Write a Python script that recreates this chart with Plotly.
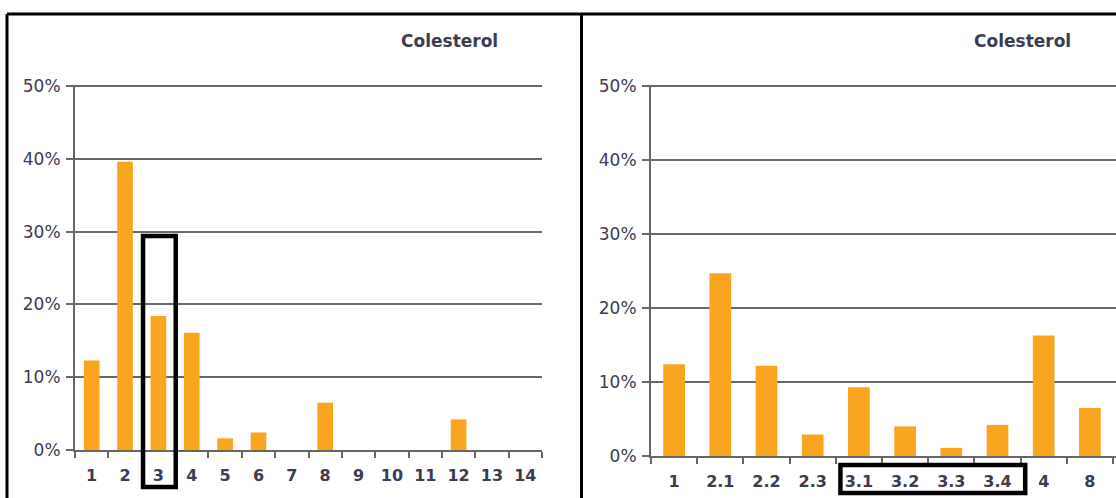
import plotly.graph_objects as go

# Cholesterol distribution by group (percent of total)
left_categories = ["1", "2", "3", "4", "5", "6", "7", "8", "9", "10", "11", "12", "13", "14"]
left_values = [12.3, 39.6, 18.4, 16.1, 1.6, 2.4, 0, 6.5, 0, 0, 0, 4.2, 0, 0]

right_categories = ["1", "2.1", "2.2", "2.3", "3.1", "3.2", "3.3", "3.4", "4", "8"]
right_values = [12.4, 24.7, 12.2, 2.9, 9.3, 4.0, 1.1, 4.2, 16.3, 6.5]

title_text = "Colesterol"
y_ticks = [0, 10, 20, 30, 40, 50]
y_tick_labels = ["0%", "10%", "20%", "30%", "40%", "50%"]

W, H = 1116, 498
BAR = "#F9A51F"
TEXT = "#3C3C50"
GRID = "#666666"
FONT = "DejaVu Sans"

# panel geometry (pixels)
left_dom = (75, 542)
right_dom = (651, 1116)
left_yaxis = (450, 86)    # pixel rows of 0% and 50%
right_yaxis = (456, 86)
right_extra = 3 / 46.2    # axis line runs a few pixels past the last slot
y_top = 50.15             # a hair above 50% so the top gridline is kept


def px_x(p):
    return p / W


def px_y(p):
    return (H - p) / H


fig = go.Figure()
fig.add_trace(go.Bar(x=left_categories, y=left_values, marker_color=BAR,
                     marker_line_width=0, width=0.47, xaxis="x", yaxis="y",
                     hoverinfo="skip"))
fig.add_trace(go.Bar(x=right_categories, y=right_values, marker_color=BAR,
                     marker_line_width=0, width=0.47, xaxis="x2", yaxis="y2",
                     hoverinfo="skip"))

xcommon = dict(type="category", tickson="boundaries", ticks="outside", ticklen=6,
               tickwidth=1.5, tickcolor=GRID, showline=True, linecolor=GRID, linewidth=2,
               showgrid=False, zeroline=False, fixedrange=True, ticklabelstandoff=10,
               automargin=False,
               tickfont=dict(family=FONT, size=16, color=TEXT, weight="bold"))
ycommon = dict(range=[0, y_top], tickvals=y_ticks, ticktext=y_tick_labels,
               ticks="outside", ticklen=7,
               tickwidth=1.5, tickcolor=GRID, showline=True, linecolor=GRID, linewidth=2,
               showgrid=True, gridcolor=GRID, gridwidth=1.5, zeroline=False, fixedrange=True,
               ticklabelstandoff=2, automargin=False,
               tickfont=dict(family=FONT, size=17, color=TEXT))


def ydom(yax):
    # stretch the domain so that 50% lands on the given pixel row
    top = yax[0] + (yax[1] - yax[0]) * y_top / 50
    return [px_y(yax[0]), px_y(top)]


fig.update_layout(
    template="none",
    width=W, height=H, autosize=False,
    margin=dict(l=0, r=0, t=0, b=0, pad=0),
    paper_bgcolor="white", plot_bgcolor="white",
    showlegend=False, bargap=0.5,
    xaxis=dict(domain=[px_x(left_dom[0]), px_x(left_dom[1])], anchor="y",
               range=[-0.5, len(left_categories) - 0.5], **xcommon),
    yaxis=dict(domain=ydom(left_yaxis), anchor="x", **ycommon),
    xaxis2=dict(domain=[px_x(right_dom[0]), px_x(right_dom[1])], anchor="y2",
                range=[-0.5, len(right_categories) - 0.5 + right_extra], **xcommon),
    yaxis2=dict(domain=ydom(right_yaxis), anchor="x2", **ycommon),
)


def slot_to_paper(dom, n, idx, extra=0.0):
    # left edge of category slot idx, in paper units
    span = n + extra
    return px_x(dom[0] + (dom[1] - dom[0]) * idx / span)


def value_to_paper(yax, v):
    return px_y(yax[0] + (yax[1] - yax[0]) * v / 50)


# panel titles
for cx in (449.5, 1022.5):
    fig.add_annotation(x=px_x(cx), y=px_y(41), xref="paper", yref="paper",
                       text=title_text, showarrow=False, xanchor="center", yanchor="middle",
                       font=dict(family=FONT, size=17, color=TEXT, weight="bold"))

shapes = []
# outer frame and divider
frame = dict(type="line", xref="paper", yref="paper", line=dict(color="black", width=3))
shapes.append(dict(frame, x0=px_x(7), x1=1.0, y0=px_y(14), y1=px_y(14)))
shapes.append(dict(frame, x0=px_x(7), x1=px_x(7), y0=px_y(14), y1=0))
shapes.append(dict(frame, x0=px_x(581.5), x1=px_x(581.5), y0=px_y(14), y1=0))

box = dict(type="rect", xref="paper", yref="paper", line=dict(color="black", width=4.5),
           fillcolor="rgba(0,0,0,0)", layer="above")
# highlight around group 3 in the left panel
i3 = left_categories.index("3")
n_left = len(left_categories)
shapes.append(dict(box,
                   x0=slot_to_paper(left_dom, n_left, i3 + 0.04),
                   x1=slot_to_paper(left_dom, n_left, i3 + 1.02),
                   y0=value_to_paper(left_yaxis, 29.4), y1=px_y(487)))
# highlight around the 3.x subgroups in the right panel
j0 = right_categories.index("3.1")
j1 = right_categories.index("3.4")
n_right = len(right_categories)
shapes.append(dict(box,
                   x0=slot_to_paper(right_dom, n_right, j0 + 0.1, right_extra),
                   x1=slot_to_paper(right_dom, n_right, j1 + 1.1, right_extra),
                   y0=px_y(465), y1=px_y(493)))

fig.update_layout(shapes=shapes)

fig.write_html("out.html", config={"displayModeBar": False})
